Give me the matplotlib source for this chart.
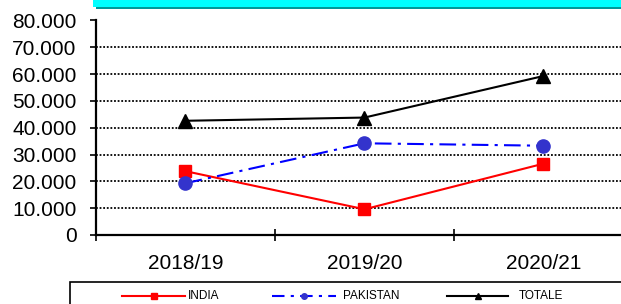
import matplotlib
matplotlib.use("Agg")
import matplotlib.pyplot as plt
from matplotlib.patches import Rectangle
from matplotlib.lines import Line2D

plt.rcParams['font.family'] = ['Liberation Sans', 'DejaVu Sans']

categories = ["2018/19", "2019/20", "2020/21"]
india = [23.8, 9.6, 26.6]
pakistan = [19.3, 34.2, 33.3]
totale = [42.6, 43.8, 59.3]
yticks = [0, 10, 20, 30, 40, 50, 60, 70, 80]
ytick_labels = ["0", "10.000", "20.000", "30.000", "40.000", "50.000", "60.000", "70.000", "80.000"]
series_labels = ["INDIA", "PAKISTAN", "TOTALE"]

W, H = 621, 304
fig = plt.figure(figsize=(W / 100, H / 100), dpi=100)

def fx(px):
    return px / W

def fy(py):
    return 1 - py / H

# header bar (cyan with dark shadow)
fig.patches.append(Rectangle((fx(96), fy(9)), fx(560), 3 / H, transform=fig.transFigure,
                             facecolor="#009999", edgecolor="none", zorder=0))
fig.patches.append(Rectangle((fx(93), fy(7)), fx(560), 7 / H, transform=fig.transFigure,
                             facecolor="#00FFFF", edgecolor="none", zorder=1))

ax = fig.add_axes([fx(96), fy(235), fx(633 - 96), (235 - 20.5) / H])
x = list(range(len(categories)))

ax.plot(x, india, color="#FF0000", lw=1.5, marker="s", ms=8.5, mfc="#FF0000", mec="#FF0000", zorder=3)
ax.plot(x, pakistan, color="#0000FF", lw=1.5, ls=(0, (8, 3, 1.5, 3)), marker="o", ms=9.5,
        mfc="#3333CC", mec="#3333CC", zorder=3)
ax.plot(x, totale, color="#000000", lw=1.5, marker="^", ms=9.5, mfc="#000000", mec="#000000", zorder=3)

ax.set_xlim(-0.5, 2.5)
ax.set_ylim(0, 80)
ax.set_yticks(yticks)
ax.set_yticklabels(ytick_labels)
ax.set_xticks(x)
ax.set_xticklabels(categories)
ax.set_xticks([-0.5, 0.5, 1.5, 2.5], minor=True)
ax.tick_params(axis="x", which="major", length=0, pad=14, labelsize=15)
ax.tick_params(axis="x", which="minor", direction="inout", length=8, width=1.2)
ax.tick_params(axis="y", which="major", direction="out", length=4, width=1.2, pad=10, labelsize=15)

for v in yticks[1:]:
    ax.axhline(v, color="black", lw=1.3, ls=(0, (1, 1)), zorder=1)

for s in ["top", "right"]:
    ax.spines[s].set_visible(False)
ax.spines["left"].set_linewidth(1.6)
ax.spines["bottom"].set_linewidth(1.6)

# legend box
fig.patches.append(Rectangle((fx(70), fy(320)), fx(600), (320 - 282) / H, transform=fig.transFigure,
                             facecolor="white", edgecolor="black", lw=1.2, zorder=2))
leg_y = fy(296)
specs = [
    (122, 185, 188, dict(color="#FF0000", marker="s", ms=4, mfc="#FF0000", mec="#FF0000", ls="-")),
    (272, 336, 343, dict(color="#0000FF", marker="o", ms=4, mfc="#3333CC", mec="#3333CC", ls=(0, (6, 3, 1.5, 3)))),
    (447, 508, 519, dict(color="#000000", marker="^", ms=4, mfc="#000000", mec="#000000", ls="-")),
]
for (x0, x1, tx, st), lab in zip(specs, series_labels):
    ln = Line2D([fx(x0), fx((x0 + x1) / 2), fx(x1)], [leg_y, leg_y, leg_y], transform=fig.transFigure,
                lw=1.5, markevery=[1], zorder=3, **st)
    fig.lines.append(ln)
    fig.text(fx(tx), leg_y, lab, fontsize=8.5, va="center", ha="left", zorder=3)

fig.savefig("out.png", dpi=100)
